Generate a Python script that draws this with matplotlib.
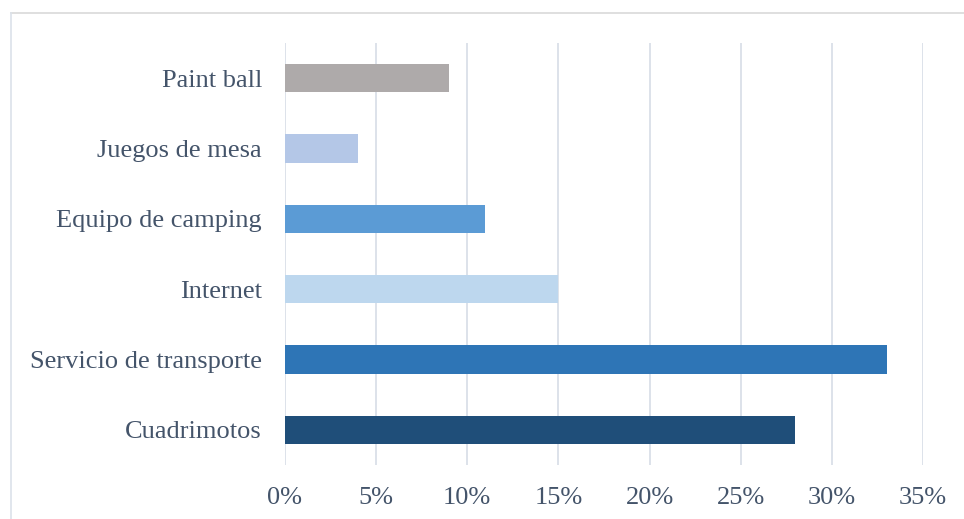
import matplotlib.pyplot as plt
from matplotlib.lines import Line2D

plt.rcParams['font.family'] = ['Liberation Serif', 'DejaVu Serif']

categories = ['Cuadrimotos', 'Servicio de transporte', 'Internet',
              'Equipo de camping', 'Juegos de mesa', 'Paint ball']
values = [28, 33, 15, 11, 4, 9]
colors = ['#1F4E79', '#2E75B6', '#BDD7EE', '#5B9BD5', '#B4C7E7', '#AEAAAA']
xticks = [0, 5, 10, 15, 20, 25, 30, 35]

text_color = '#44546A'
grid_color = '#DDE2EA'

fig = plt.figure(figsize=(9.64, 5.19), dpi=100)
ax = fig.add_axes([0.2956, 0.104, 0.6619, 0.813])

ypos = list(range(len(categories)))
ax.barh(ypos, values, height=0.4, color=colors, zorder=3)

ax.set_xlim(0, 35)
ax.set_ylim(-0.5, len(categories) - 0.5)
ax.set_xticks(xticks)
ax.set_xticklabels(['{}%'.format(t) for t in xticks])
ax.set_yticks(ypos)
ax.set_yticklabels(categories)

ax.tick_params(axis='both', length=0, labelsize=19, colors=text_color)
ax.tick_params(axis='y', pad=16.5)
ax.tick_params(axis='x', pad=15.5)
ax.xaxis.grid(True, color=grid_color, linewidth=1.4, zorder=0)
for s in ax.spines.values():
    s.set_visible(False)

# outer chart frame (top and left edges visible)
fig.add_artist(Line2D([11 / 964, 1], [1 - 13 / 519, 1 - 13 / 519],
                      transform=fig.transFigure, color='#D9D9D9', lw=1.2))
fig.add_artist(Line2D([11 / 964, 11 / 964], [0, 1 - 13 / 519],
                      transform=fig.transFigure, color='#DCE2EA', lw=1.2))

plt.savefig('out.png', dpi=100)
